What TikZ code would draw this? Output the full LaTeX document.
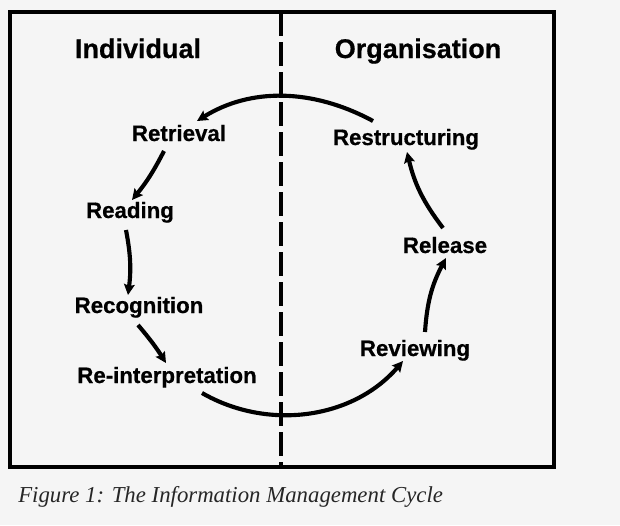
\documentclass[tikz,border=0pt]{standalone}
\usepackage{fontspec}
\setmainfont{Liberation Sans}
\newfontfamily\lblfont{Liberation Sans}[FakeBold=0.6,BoldFont={Liberation Sans Bold}]
\newfontfamily\capfont{Liberation Serif}
\usetikzlibrary{arrows.meta}
\begin{document}
\begin{tikzpicture}[x=0.75pt,y=-0.75pt,
  lbl/.style={font=\lblfont\bfseries\fontsize{16.7}{20}\selectfont, inner sep=0pt, anchor=base, text=black},
  head/.style={font=\lblfont\bfseries\fontsize{20.25}{24}\selectfont, inner sep=0pt, anchor=base, text=black},
  flow/.style={line width=3.1pt, -{Stealth[length=8pt,width=8pt,inset=1.2pt]}},
  frame/.style={line width=2.3pt},
  divider/.style={line width=2.3pt, dash pattern=on 18pt off 4.5pt}
]
\fill[black!4] (0,0) rectangle (620,525);
\useasboundingbox (0,0) rectangle (620,525);
\draw[frame] (10,12) rectangle (554,467);
\draw[divider] (281,12) -- (281,467);

\node[head] (ind) at (138,58) {Individual};
\node[head] (org) at (418,58) {Organisation};

\node[lbl] (retr) at (179,141) {Retrieval};
\node[lbl] (restr) at (406,145) {Restructuring};
\node[lbl] (read) at (130,218) {Reading};
\node[lbl] (rel) at (445,253) {Release};
\node[lbl] (recog) at (139,313) {Recognition};
\node[lbl] (rev) at (415,356) {Reviewing};
\node[lbl] (reint) at (167,383) {Re-interpretation};

\node[font=\capfont\itshape\fontsize{17.1}{20}\selectfont, anchor=base west, inner sep=0pt, text=black!85] (cap) at (18,502) {Figure 1: The Information Management Cycle};

\draw[flow] ([shift={(-33,-24)}]restr.base) .. controls +(-61,-33) and +(53,-33) .. ([shift={(18,-20)}]retr.base);
\draw[flow] ([shift={(-15,10)}]retr.base) to[bend left=6] ([shift={(2,-18)}]read.base);
\draw[flow] ([shift={(-4,12)}]read.base) to[bend left=9] ([shift={(-11,-18)}]recog.base);
\draw[flow] ([shift={(-1,12)}]recog.base) to[bend left=4] ([shift={(-1,-20)}]reint.base);
\draw[flow] ([shift={(35,10)}]reint.base) .. controls +(66,38) and +(-50,58) .. ([shift={(-12,5)}]rev.base);
\draw[flow] ([shift={(10,-24)}]rev.base) to[bend left=12] ([shift={(1,5)}]rel.base);
\draw[flow] ([shift={(-2,-25)}]rel.base) to[bend left=12] ([shift={(1,7)}]restr.base);
\end{tikzpicture}
\end{document}
